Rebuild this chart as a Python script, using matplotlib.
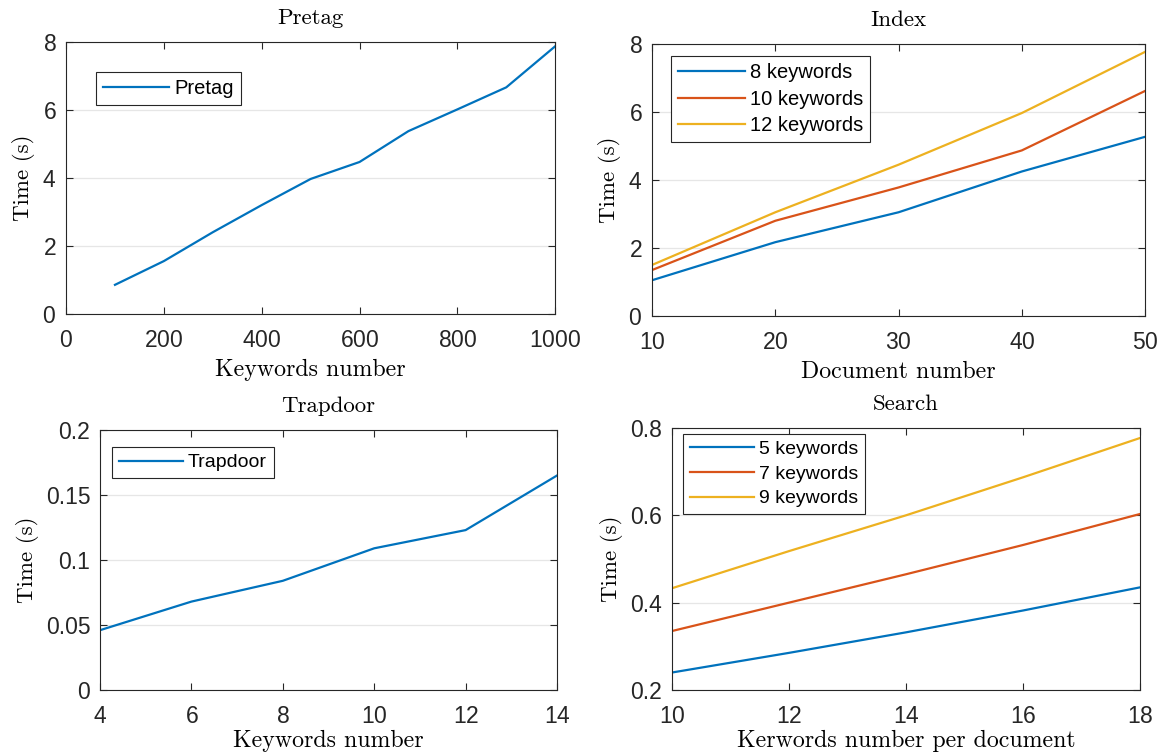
import matplotlib.pyplot as plt

# data
pretag_x = [100, 200, 300, 400, 500, 600, 700, 800, 900, 1000]
pretag_y = [0.85, 1.55, 2.4, 3.2, 3.97, 4.47, 5.38, 6.02, 6.67, 7.88]

index_x = [10, 20, 30, 40, 50]
index_8 = [1.05, 2.17, 3.05, 4.25, 5.27]
index_10 = [1.35, 2.8, 3.78, 4.87, 6.62]
index_12 = [1.5, 3.05, 4.45, 5.97, 7.77]

trap_x = [4, 6, 8, 10, 12, 14]
trap_y = [0.046, 0.068, 0.084, 0.109, 0.123, 0.165]

search_x = [10, 12, 14, 16, 18]
search_5 = [0.24, 0.285, 0.332, 0.382, 0.435]
search_7 = [0.335, 0.4, 0.465, 0.532, 0.603]
search_9 = [0.433, 0.518, 0.6, 0.687, 0.777]

colors = ['#0072BD', '#D95319', '#EDB120']
serif = 'cmr10'
sans = 'Liberation Sans'

plt.rcParams['font.family'] = sans
plt.rcParams['axes.formatter.use_mathtext'] = True


def style_axes(ax, title, xlabel, xpad=5):
    ax.set_title(title, family=serif, fontsize=16.5, pad=13)
    ax.set_xlabel(xlabel, family=serif, fontsize=17.2, labelpad=xpad)
    ax.set_ylabel('Time (s)', family=serif, fontsize=16.5, labelpad=5)
    ax.tick_params(direction='in', top=True, right=True, labelsize=16.5,
                   length=5, width=0.8, colors='#262626')
    ax.tick_params(axis='x', pad=11)
    ax.tick_params(axis='y', pad=7)
    ax.grid(axis='y', color='#e6e6e6', linewidth=0.9)
    ax.set_axisbelow(True)
    for s in ax.spines.values():
        s.set_color('#262626')
        s.set_linewidth(0.8)


def add_legend(ax, anchor, size=14.5):
    leg = ax.legend(loc='upper left', bbox_to_anchor=anchor, fontsize=size,
                    fancybox=False, framealpha=1, edgecolor='#262626',
                    handlelength=3.3, handletextpad=0.25, borderpad=0.35,
                    labelspacing=0.36, borderaxespad=0)
    leg.get_frame().set_linewidth(0.8)


fig = plt.figure(figsize=(11.59, 7.54), dpi=100)

ax1 = fig.add_axes([0.057, 0.584, 0.422, 0.360])
ax1.plot(pretag_x, pretag_y, color=colors[0], lw=1.6, label='Pretag')
ax1.set_xlim(0, 1000)
ax1.set_ylim(0, 8)
ax1.set_xticks(range(0, 1001, 200))
ax1.set_yticks(range(0, 9, 2))
style_axes(ax1, 'Pretag', 'Keywords number')
add_legend(ax1, (0.061, 0.89))

ax2 = fig.add_axes([0.5626, 0.581, 0.4254, 0.3606])
ax2.plot(index_x, index_8, color=colors[0], lw=1.6, label='8 keywords')
ax2.plot(index_x, index_10, color=colors[1], lw=1.6, label='10 keywords')
ax2.plot(index_x, index_12, color=colors[2], lw=1.6, label='12 keywords')
ax2.set_xlim(10, 50)
ax2.set_ylim(0, 8)
ax2.set_xticks(range(10, 51, 10))
ax2.set_yticks(range(0, 9, 2))
style_axes(ax2, 'Index', 'Document number')
add_legend(ax2, (0.0385, 0.955))

ax3 = fig.add_axes([0.0863, 0.0849, 0.3943, 0.3448])
ax3.plot(trap_x, trap_y, color=colors[0], lw=1.6, label='Trapdoor')
ax3.set_xlim(4, 14)
ax3.set_ylim(0, 0.2)
ax3.set_xticks(range(4, 15, 2))
ax3.set_yticks([0, 0.05, 0.1, 0.15, 0.2])
ax3.set_yticklabels(['0', '0.05', '0.1', '0.15', '0.2'])
style_axes(ax3, 'Trapdoor', 'Keywords number', xpad=1)
add_legend(ax3, (0.026, 0.935), size=14)

ax4 = fig.add_axes([0.5798, 0.0849, 0.4038, 0.3475])
ax4.plot(search_x, search_5, color=colors[0], lw=1.6, label='5 keywords')
ax4.plot(search_x, search_7, color=colors[1], lw=1.6, label='7 keywords')
ax4.plot(search_x, search_9, color=colors[2], lw=1.6, label='9 keywords')
ax4.set_xlim(10, 18)
ax4.set_ylim(0.2, 0.8)
ax4.set_xticks(range(10, 19, 2))
ax4.set_yticks([0.2, 0.4, 0.6, 0.8])
ax4.set_yticklabels(['0.2', '0.4', '0.6', '0.8'])
style_axes(ax4, 'Search', 'Kerwords number per document', xpad=1)
add_legend(ax4, (0.0235, 0.978), size=14)

fig.savefig('out.png', dpi=100)
